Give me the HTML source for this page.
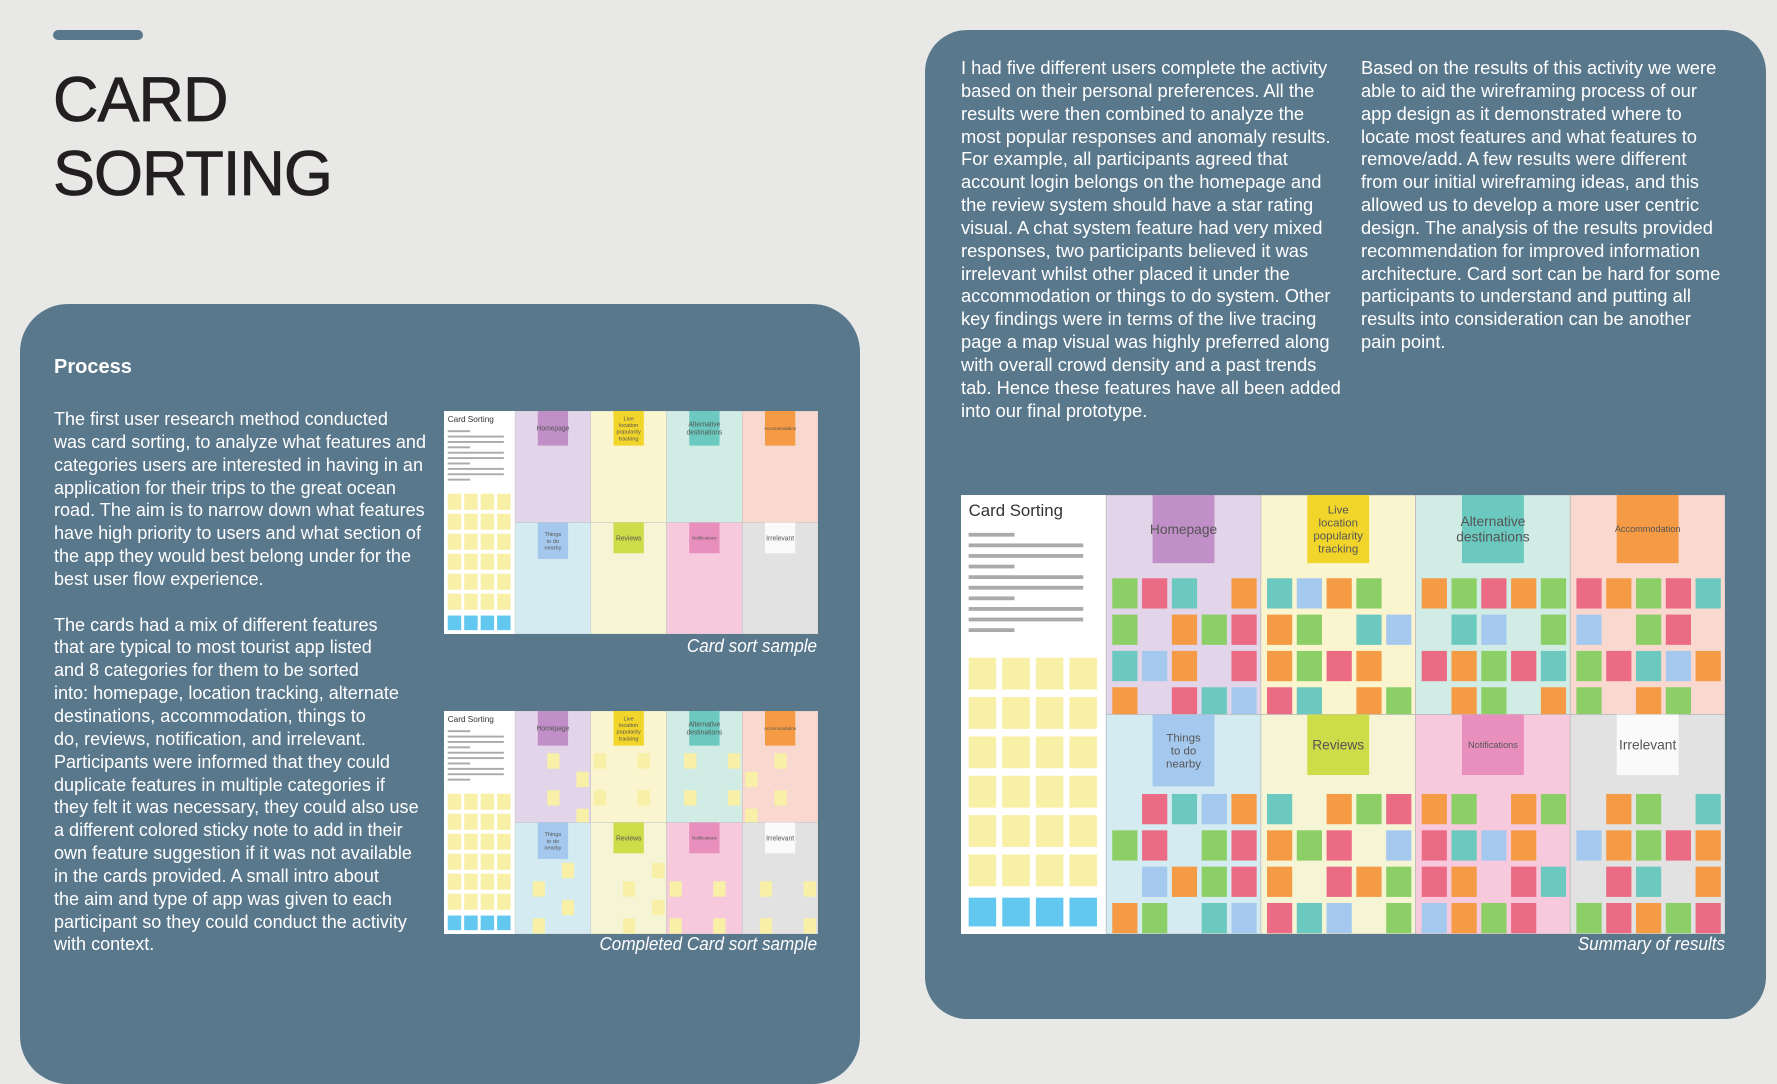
<!DOCTYPE html>
<html><head><meta charset="utf-8">
<style>
html,body{margin:0;padding:0;}
body{width:1777px;height:1028px;background:#e8e9e6;position:relative;overflow:hidden;font-family:"Liberation Sans",sans-serif;}
.abs{position:absolute;}
.panel{position:absolute;background:#5a788c;}
.txt{position:absolute;color:#fff;font-size:18.5px;line-height:22.85px;white-space:nowrap;transform:scaleX(0.975);transform-origin:0 0;}
.cap{position:absolute;color:#fff;font-style:italic;font-size:18px;white-space:nowrap;transform:scaleX(0.95);transform-origin:100% 0;text-align:right;}
</style></head>
<body>
<div class="abs" style="left:53px;top:30px;width:90px;height:10px;border-radius:5px;background:#5a788c;"></div>
<div class="abs" style="left:53px;top:63px;font-size:63px;line-height:74px;color:#231f20;letter-spacing:-1px;-webkit-text-stroke:0.8px #231f20;">CARD<br>SORTING</div>

<div class="panel" style="left:20px;top:304px;width:840px;height:780px;border-radius:48px;"></div>
<div class="abs" style="left:54px;top:356px;color:#fff;font-weight:bold;font-size:20px;">Process</div>
<div class="txt" style="left:54px;top:408px;">The first user research method conducted<br>was card sorting, to analyze what features and<br>categories users are interested in having in an<br>application for their trips to the great ocean<br>road. The aim is to narrow down what features<br>have high priority to users and what section of<br>the app they would best belong under for the<br>best user flow experience.<br><br>The cards had a mix of different features<br>that are typical to most tourist app listed<br>and 8 categories for them to be sorted<br>into: homepage, location tracking, alternate<br>destinations, accommodation, things to<br>do, reviews, notification, and irrelevant.<br>Participants were informed that they could<br>duplicate features in multiple categories if<br>they felt it was necessary, they could also use<br>a different colored sticky note to add in their<br>own feature suggestion if it was not available<br>in the cards provided. A small intro about<br>the aim and type of app was given to each<br>participant so they could conduct the activity<br>with context.</div>

<svg class="abs board" id="b1" style="left:444px;top:411px;" width="374" height="223"></svg>
<div class="cap" style="right:960px;top:636px;">Card sort sample</div>
<svg class="abs board" id="b2" style="left:444px;top:711px;" width="374" height="223"></svg>
<div class="cap" style="right:960px;top:934px;">Completed Card sort sample</div>

<div class="panel" style="left:925px;top:30px;width:841px;height:989px;border-radius:42px;"></div>
<div class="txt" style="left:961px;top:57px;transform:scaleX(0.99);">I had five different users complete the activity<br>based on their personal preferences. All the<br>results were then combined to analyze the<br>most popular responses and anomaly results.<br>For example, all participants agreed that<br>account login belongs on the homepage and<br>the review system should have a star rating<br>visual. A chat system feature had very mixed<br>responses, two participants believed it was<br>irrelevant whilst other placed it under the<br>accommodation or things to do system. Other<br>key findings were in terms of the live tracing<br>page a map visual was highly preferred along<br>with overall crowd density and a past trends<br>tab. Hence these features have all been added<br>into our final prototype.</div>
<div class="txt" style="left:1361px;top:57px;transform:scaleX(0.99);">Based on the results of this activity we were<br>able to aid the wireframing process of our<br>app design as it demonstrated where to<br>locate most features and what features to<br>remove/add. A few results were different<br>from our initial wireframing ideas, and this<br>allowed us to develop a more user centric<br>design. The analysis of the results provided<br>recommendation for improved information<br>architecture. Card sort can be hard for some<br>participants to understand and putting all<br>results into consideration can be another<br>pain point.</div>

<svg class="abs board" id="b3" style="left:961px;top:495px;" width="764" height="439"></svg>
<div class="cap" style="right:52px;top:934px;">Summary of results</div>

<script>
const NS="http://www.w3.org/2000/svg";
const cellBg=["#e2d5ea","#fbf5cf","#d1ebe5","#f9d8d0","#d4ebf2","#f5f5d6","#f6c9dd","#e2e2e2"];
const headBg=["#c08fc7","#f2d52a","#6cc9c0","#f59a45","#a5c9ee","#cddc49","#e98fbd","#fafafa"];
const heads=[["Homepage"],["Live","location","popularity","tracking"],["Alternative","destinations"],["Accommodation"],["Things","to do","nearby"],["Reviews"],["Notifications"],["Irrelevant"]];
const noteCols=["#f59a45","#8ccf66","#ec6b84","#6cc9c0","#a5c9ee","#f59a45","#8ccf66","#ec6b84"];
function el(p,t,a){const e=document.createElementNS(NS,t);for(const k in a)e.setAttribute(k,a[k]);p.appendChild(e);return e;}
function board(id,density){
  const s=document.getElementById(id);s.setAttribute('viewBox','0 0 1000 580');s.setAttribute('preserveAspectRatio','none');
  el(s,'rect',{x:0,y:0,width:1000,height:580,fill:'#fff'});
  const lw=190,cw=(1000-lw)/4,ch=290;
  for(let i=0;i<8;i++){
    const c=i%4,r=Math.floor(i/4),x=lw+c*cw,y=r*ch;
    el(s,'rect',{x:x,y:y,width:cw,height:ch,fill:cellBg[i],stroke:'#bbb','stroke-width':1});
    const hh=r?(i==4?95:80):90;
    el(s,'rect',{x:x+cw*0.3,y:y,width:cw*0.4,height:hh,fill:headBg[i]});
    const lines=heads[i];
    const fs=lines.length>2?15:(i==3||i==6?12:18);
    lines.forEach((ln,j)=>{
      const t=el(s,'text',{x:x+cw*0.5,y:y+hh/2+(j-(lines.length-1)/2)*fs*1.15+fs*0.35,'font-size':fs,'text-anchor':'middle',fill:'#555','font-family':'Liberation Sans, sans-serif'});
      t.textContent=ln;
    });
    if(density>0){
      let k=0;
      for(let yy=y+(r?105:110);yy<y+ch-30;yy+=48){
        for(let xx=x+8;xx<x+cw-30;xx+=39){
          k++;
          if(((k*7+i*3)%10)>=density)continue;
          const col=density>5?noteCols[(k+i*2)%8]:'#f7f0a6';
          el(s,'rect',{x:xx,y:yy,width:33,height:40,fill:col});
        }
      }
    }
  }
  el(s,'text',{x:10,y:28,'font-size':22,fill:'#333','font-family':'Liberation Sans, sans-serif'}).textContent='Card Sorting';
  for(let j=0;j<10;j++)el(s,'rect',{x:10,y:50+j*14,width:j%3==0?60:150,height:5,fill:'#aaa'});
  for(let r=0;r<6;r++)for(let c=0;c<4;c++)el(s,'rect',{x:10+c*44,y:215+r*52,width:36,height:42,fill:'#f7f0a6'});
  for(let c=0;c<4;c++)el(s,'rect',{x:10+c*44,y:532,width:36,height:38,fill:'#63c8ef'});
}
board('b1',0);board('b2',2);board('b3',8);
</script>
</body></html>
